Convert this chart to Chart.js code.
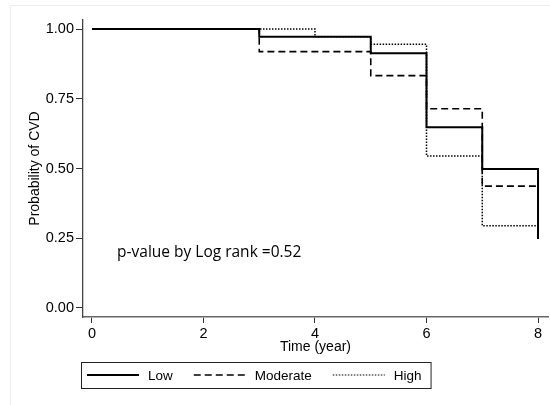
<!DOCTYPE html>
<html>
<head>
<meta charset="utf-8">
<script src="https://cdn.jsdelivr.net/npm/chart.js@4/dist/chart.umd.min.js"></script>
<style>
html,body{margin:0;padding:0;background:#fff;}
#wrap{width:550px;height:405px;position:relative;}
</style>
</head>
<body>
<div id="wrap"><canvas id="c" width="550" height="405"></canvas></div>
<script>
// ---- data ----
const seriesNames = ["Low", "Moderate", "High"];
const lowTime  = [0, 3, 5, 6, 7, 8];
const lowSurv  = [1.00, 0.972, 0.913, 0.648, 0.498, 0.247];
const modTime  = [0, 3, 5, 6, 7, 8];
const modSurv  = [1.00, 0.919, 0.833, 0.714, 0.437, 0.437];
const highTime = [0, 4, 5, 6, 7, 8];
const highSurv = [1.00, 0.972, 0.945, 0.545, 0.295, 0.295];
const xTicks = [0, 2, 4, 6, 8];
const yTicks = [0, 0.25, 0.5, 0.75, 1.0];
const pText = "p-value by Log rank =0.52";
const pPos = {x: 0.45, y: 0.197};

const toXY = (t, s) => t.map((v, i) => ({x: v, y: s[i]}));

const FONT = "'Liberation Sans', Arial, sans-serif";
Chart.defaults.font.family = FONT;
Chart.defaults.font.size = 14;
Chart.defaults.color = '#000';

const framePlugin = {
  id: 'frame',
  beforeDraw(chart) {
    const ctx = chart.ctx;
    ctx.save();
    ctx.strokeStyle = '#ececec';
    ctx.lineWidth = 1;
    ctx.beginPath();
    ctx.moveTo(10.5, 405);
    ctx.lineTo(10.5, 5.5);
    ctx.lineTo(550, 5.5);
    ctx.stroke();
    ctx.restore();
  }
};

const extrasPlugin = {
  id: 'extras',
  afterDraw(chart) {
    const ctx = chart.ctx;
    const xs = chart.scales.x, ys = chart.scales.y;
    ctx.save();
    // annotation text
    ctx.fillStyle = '#000';
    ctx.font = "15.5px 'Open Sans', sans-serif";
    ctx.textBaseline = 'middle';
    ctx.textAlign = 'left';
    ctx.fillText(pText, xs.getPixelForValue(pPos.x), ys.getPixelForValue(pPos.y));

    // legend
    const boxL = 81, boxT = 362, boxH = 26;
    ctx.font = "13.5px " + FONT;
    let x = boxL + 6;
    const cy = boxT + boxH / 2;
    const items = [];
    chart.data.datasets.forEach((ds) => {
      const sx0 = x, sx1 = x + 52;
      const tx = sx1 + 9;
      const tw = ctx.measureText(ds.label).width;
      items.push({ds, sx0, sx1, tx});
      x = tx + tw + 21;
    });
    const boxR = x - 21 + 9;
    ctx.strokeStyle = '#222';
    ctx.lineWidth = 1;
    ctx.strokeRect(boxL + 0.5, boxT + 0.5, boxR - boxL, boxH);
    items.forEach(it => {
      ctx.save();
      ctx.strokeStyle = it.ds.borderColor;
      ctx.lineWidth = it.ds.legendWidth || it.ds.borderWidth;
      ctx.setLineDash(it.ds.borderDash || []);
      ctx.beginPath();
      ctx.moveTo(it.sx0, cy);
      ctx.lineTo(it.sx1, cy);
      ctx.stroke();
      ctx.restore();
      ctx.fillStyle = '#000';
      ctx.textBaseline = 'middle';
      ctx.fillText(it.ds.label, it.tx, cy + 1);
    });
    ctx.restore();
  }
};

new Chart(document.getElementById('c'), {
  type: 'line',
  data: {
    datasets: [
      {label: seriesNames[0], data: toXY(lowTime, lowSurv), borderColor: '#000', borderWidth: 2, stepped: true, pointRadius: 0, fill: false},
      {label: seriesNames[1], data: toXY(modTime, modSurv), borderColor: '#000', borderWidth: 1.6, borderDash: [7, 4], stepped: true, pointRadius: 0, fill: false},
      {label: seriesNames[2], data: toXY(highTime, highSurv), borderColor: '#000', borderWidth: 1.5, legendWidth: 1.2, borderDash: [1.5, 1.5], stepped: true, pointRadius: 0, fill: false}
    ]
  },
  options: {
    responsive: false,
    animation: false,
    devicePixelRatio: 1,
    layout: {padding: {left: 27, top: 20, right: 2, bottom: 49}},
    plugins: {legend: {display: false}, tooltip: {enabled: false}},
    scales: {
      x: {
        type: 'linear',
        min: -0.161, max: 8.179,
        afterBuildTicks: s => { s.ticks = xTicks.map(v => ({value: v})); },
        afterFit: s => { s.height = 39; },
        ticks: {color: '#000', font: {family: FONT, size: 14.5}, padding: 2, maxRotation: 0,
          callback: v => String(v)},
        grid: {display: true, drawOnChartArea: false, drawTicks: true, tickLength: 6, color: '#333', tickWidth: 1},
        border: {display: true, color: '#666', width: 1.6},
        title: {display: true, text: 'Time (year)', color: '#000', font: {family: FONT, size: 14}, padding: 0}
      },
      y: {
        min: -0.0323, max: 1.0323,
        afterBuildTicks: s => { s.ticks = yTicks.map(v => ({value: v})); },
        afterFit: s => { s.width = 56; },
        ticks: {color: '#000', font: {family: FONT, size: 14.5}, padding: 2,
          callback: v => Number(v).toFixed(2)},
        grid: {display: true, drawOnChartArea: false, drawTicks: true, tickLength: 7, color: '#333', tickWidth: 1},
        border: {display: true, color: '#444', width: 1.3},
        title: {display: true, text: 'Probability of CVD', color: '#000', font: {family: FONT, size: 14}, padding: 0}
      }
    }
  },
  plugins: [framePlugin, extrasPlugin]
});
</script>
</body>
</html>
